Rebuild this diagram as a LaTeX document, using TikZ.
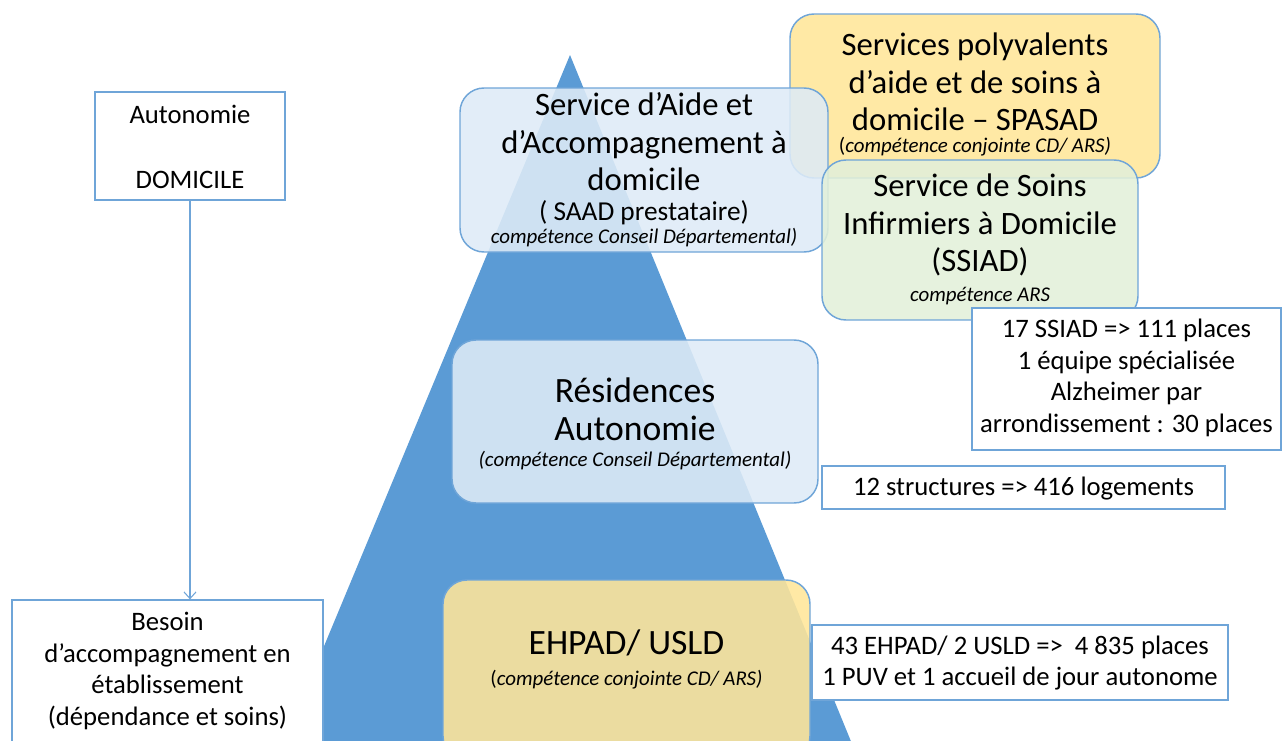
\documentclass[tikz,border=0pt]{standalone}
\usepackage{fontspec}
\setmainfont{Carlito}
\usetikzlibrary{arrows.meta}
\definecolor{pyramide}{HTML}{5B9BD5}
\definecolor{bordbleu}{HTML}{6FA5D8}
\definecolor{fondbleu}{HTML}{DEEBF7}
\definecolor{fondjaune}{HTML}{FFE699}
\definecolor{fondvert}{HTML}{E2F0D9}
\newcommand\pxl[1]{#1*0.75pt}
\tikzset{
  boite/.style={draw=bordbleu, line width=1.1pt, rounded corners=18pt, fill opacity=0.88, inner sep=0pt},
  cadre/.style={draw=bordbleu, line width=0.9pt, fill=white, inner sep=0pt},
  grand/.style={align=center, font=\fontsize{24.5}{28.1}\selectfont},
  tresgrand/.style={align=center, font=\fontsize{26.7}{28.5}\selectfont},
  moyen/.style={align=center, font=\fontsize{20}{23.6}\selectfont},
  petit/.style={align=center, font=\fontsize{15.7}{18}\selectfont\itshape},
}
\begin{document}
\begin{tikzpicture}[x=0.75pt, y=-0.75pt]
    \useasboundingbox (0,0) rectangle (1282,740);
    \clip (0,0) rectangle (1282,740);
    % pyramide
    \fill [pyramide] (570,55) -- (260,800) -- (875,800) -- cycle;
    % services a domicile
    \node [boite, fill=fondjaune, minimum width=\pxl{370}, minimum height=\pxl{164}] (spasad) at (975,96) {};
    \node [grand] (spasadtxt) at (975,82) {Services polyvalents\\d’aide et de soins à\\domicile – SPASAD};
    \node [petit] (spasadcomp) at (975,147) {\upshape(\itshape compétence conjointe CD/ ARS)};
    \node [boite, fill=fondbleu, minimum width=\pxl{368}, minimum height=\pxl{164}] (saad) at (644,170) {};
    \node [grand] (saadtxt) at (644,142) {Service d’Aide et\\d’Accompagnement à\\domicile};
    \node [align=center, font=\fontsize{20.5}{24}\selectfont] (saadsub) at (644,213) {( SAAD prestataire)};
    \node [petit] (saadcomp) at (644,238) {compétence Conseil Départemental)};
    \node [boite, fill=fondvert, minimum width=\pxl{316}, minimum height=\pxl{160}] (ssiad) at (980,240) {};
    \node [grand] (ssiadtxt) at (980,225) {Service de Soins\\Infirmiers à Domicile\\(SSIAD)};
    \node [petit] (ssiadcomp) at (980,296) {compétence ARS};
    \node [cadre, minimum width=\pxl{309}, minimum height=\pxl{142}] (nbssiad) at (1126.5,379) {};
    \node [moyen] (nbssiadtxt) at (1126.5,378) {17 SSIAD => 111 places\\1 équipe spécialisée\\Alzheimer par\\arrondissement : 30 places};
    % residences
    \node [boite, fill=fondbleu, minimum width=\pxl{366}, minimum height=\pxl{163}] (resid) at (635,421.5) {};
    \node [tresgrand] (residtxt) at (635,409) {Résidences\\Autonomie};
    \node [petit] (residcomp) at (635,461) {(compétence Conseil Départemental)};
    \node [cadre, minimum width=\pxl{403}, minimum height=\pxl{43}] (nbresid) at (1023.5,487.5) {};
    \node [moyen] (nbresidtxt) at (1023.5,489) {12 structures => 416 logements};
    % etablissements
    \node [boite, fill=fondjaune, minimum width=\pxl{367}, minimum height=\pxl{180}] (ehpad) at (626.5,670) {};
    \node [tresgrand] (ehpadtxt) at (626.5,643) {EHPAD/ USLD};
    \node [petit] (ehpadcomp) at (626.5,680) {\upshape(\itshape compétence conjointe CD/ ARS)};
    \node [cadre, minimum width=\pxl{416}, minimum height=\pxl{75}] (nbehpad) at (1020,662.5) {};
    \node [moyen] (nbehpadtxt) at (1020,663) {43 EHPAD/ 2 USLD =>\ \ 4 835 places\\1 PUV et 1 accueil de jour autonome};
    % axe besoin
    \node [cadre, minimum width=\pxl{190}, minimum height=\pxl{108}] (autonomie) at (190,146) {};
    \node [moyen] (autonomietxt) at (190,147) {Autonomie\\[\pxl{34}]DOMICILE};
    \node [cadre, minimum width=\pxl{311}, minimum height=\pxl{160}] (besoin) at (167.5,680) {};
    \node [moyen] (besointxt) at (167.5,671) {Besoin\\d’accompagnement en\\établissement\\(dépendance et soins)};
    \draw [bordbleu, line width=0.8pt, -{Straight Barb[length=5pt, width=9pt]}] (autonomie.south) -- (autonomie.south |- besoin.north);
\end{tikzpicture}
\end{document}
